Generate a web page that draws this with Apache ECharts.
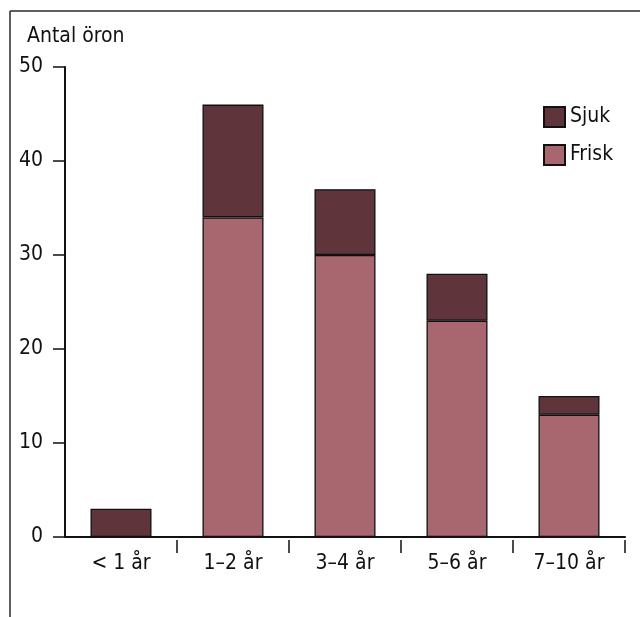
<!DOCTYPE html>
<html>
<head>
<meta charset="utf-8">
<script src="https://cdn.jsdelivr.net/npm/echarts@6/dist/echarts.min.js"></script>
<style>
  html, body { margin: 0; padding: 0; background: #fff; }
  #chart { width: 640px; height: 617px; }
</style>
</head>
<body>
<div id="chart"></div>
<script>
const categories = ['< 1 år', '1–2 år', '3–4 år', '5–6 år', '7–10 år']
const frisk = [0, 34, 30, 23, 13]
const sjuk = [3, 12, 7, 5, 2]
const yTicks = [0, 10, 20, 30, 40, 50]

const font = "'Liberation Sans Narrow', 'DejaVu Sans Condensed', sans-serif"
const ink = '#111'

const chart = echarts.init(document.getElementById('chart'))
chart.setOption({
  animation: false,
  backgroundColor: '#fff',
  textStyle: { fontFamily: font, color: ink },
  grid: { left: 65, right: 15, top: 67, bottom: 80 },
  graphic: [
    { type: 'line', shape: { x1: 10, y1: 11, x2: 10, y2: 617 }, style: { stroke: '#2e2a22', lineWidth: 1.5 } },
    { type: 'line', shape: { x1: 10, y1: 11, x2: 640, y2: 11 }, style: { stroke: '#2e2a22', lineWidth: 1.5 } },
    { type: 'text', left: 27, top: 26, style: { text: 'Antal öron', font: '21px ' + font, fill: ink } }
  ],
  legend: {
    orient: 'vertical',
    left: 538,
    top: 101,
    itemWidth: 21,
    itemHeight: 20,
    itemGap: 16,
    icon: 'rect',
    data: ['Sjuk', 'Frisk'],
    textStyle: { fontFamily: font, fontSize: 21, color: ink }
  },
  xAxis: [
    {
      type: 'category',
      data: categories,
      axisLine: { lineStyle: { color: ink, width: 2 } },
      axisTick: { show: false },
      axisLabel: { color: ink, fontFamily: font, fontSize: 21, margin: 16 }
    },
    {
      type: 'category',
      data: categories,
      position: 'bottom',
      offset: 3,
      axisLine: { show: false },
      axisTick: { show: true, length: 13, lineStyle: { color: ink, width: 1.5 }, interval: (i) => i !== 0 },
      axisLabel: { show: false }
    }
  ],
  yAxis: {
    type: 'value',
    min: 0,
    max: 50,
    interval: 10,
    axisLine: { show: true, lineStyle: { color: ink, width: 2 } },
    axisTick: { show: true, length: 12, lineStyle: { color: ink, width: 1.5 } },
    splitLine: { show: false },
    axisLabel: {
      color: ink, fontFamily: font, fontSize: 21, margin: 22,
      formatter: (v) => (yTicks.includes(v) ? String(v) : '')
    }
  },
  series: [
    {
      name: 'Frisk',
      type: 'bar',
      stack: 'total',
      barWidth: 61,
      data: frisk.map(v => (v === 0 ? null : v)),
      itemStyle: { color: '#a8676f', borderColor: '#111', borderWidth: 1.3 }
    },
    {
      name: 'Sjuk',
      type: 'bar',
      stack: 'total',
      barWidth: 61,
      data: sjuk,
      itemStyle: { color: '#5f343b', borderColor: '#111', borderWidth: 1.3 }
    }
  ]
})
</script>
</body>
</html>
